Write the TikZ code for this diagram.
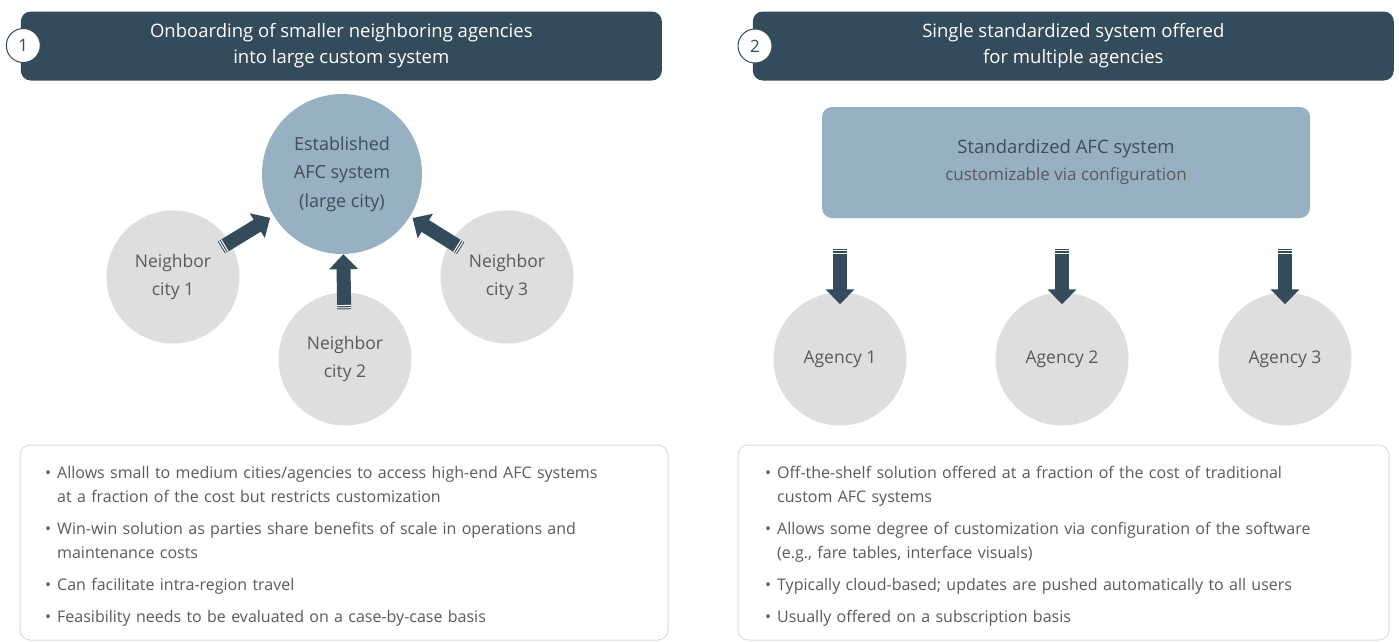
\documentclass[tikz,border=0pt]{standalone}
\usepackage{fontspec}
\setmainfont{Open Sans}
\usepackage{enumitem}
\usetikzlibrary{arrows.meta,positioning,calc}

\definecolor{slate}{HTML}{344B5B}
\definecolor{steel}{HTML}{97B1C3}
\definecolor{pebble}{HTML}{DEDEDE}
\definecolor{ink}{HTML}{5A5A5A}
\definecolor{deepink}{HTML}{434D55}
\definecolor{frame}{HTML}{DCDCDC}

\tikzset{
  header/.style={fill=slate, rounded corners=10pt, text=white, align=center,
    minimum width=641pt, minimum height=69pt, inner sep=0pt,
    font=\fontsize{18.5}{26}\selectfont},
  badge/.style={circle, draw=slate, fill=white, line width=1pt, minimum size=34pt,
    inner sep=0pt, text=slate, font=\fontsize{17}{20}\selectfont},
  city/.style={circle, fill=pebble, minimum size=133pt, inner sep=0pt, text=ink,
    align=center, font=\fontsize{17.5}{28}\selectfont},
  hub/.style={circle, fill=steel, minimum size=160pt, inner sep=0pt, text=deepink,
    align=center, font=\fontsize{18}{28.5}\selectfont},
  fat/.style={slate, line width=14pt, -{Triangle[width=28pt,length=15pt]}},
  stripes/.style={white, line width=14pt,
    dash pattern=on 1pt off 1.3pt on 1pt off 400pt, dash phase=402.3pt},
  notes/.style={draw=frame, rounded corners=10pt, line width=1pt},
  notetext/.style={anchor=north west, inner sep=0pt, text width=615pt, text=ink,
    font=\fontsize{16}{24}\selectfont},
}

%% thick arrow with a striped tail, drawn from node to node
\newcommand\stripedlink[4]{%
  \draw[fat, shorten <=#3, shorten >=#4] (#1) -- (#2);
  \draw[stripes, shorten <=#3] (#1) -- (#2);
}

\setlist[itemize]{label=\textbullet, leftmargin=15pt, labelsep=6pt,
  topsep=0pt, partopsep=0pt, parsep=0pt, itemsep=8pt}

\begin{document}
\begin{tikzpicture}[x=1pt,y=-1pt]
  \useasboundingbox (0,0) rectangle (1399,641);

  \begin{scope}
    %% header
    \node[header] (headA) at (341.3,46) {Onboarding of smaller neighboring agencies\\into large custom system};
    \node[badge] (numA) at (23.3,45.5) {1};
    %% established system
    \node[hub] (big) at (342,174) {Established\\AFC system\\(large city)};
    %% neighbors
    \node[city] (nb1) at (173,277) {Neighbor\\city 1};
    \node[city] (nb2) at (345,359) {Neighbor\\city 2};
    \node[city] (nb3) at (507,277) {Neighbor\\city 3};
    \stripedlink{nb1}{big}{-10pt}{4pt}
    \stripedlink{nb2}{big}{-17pt}{0pt}
    \stripedlink{nb3}{big}{-12pt}{3pt}
    %% notes
    \draw[notes] (20,445) rectangle (668,640);
    \node[notetext] (txtA) at (42,454) {\raggedright
      \begin{itemize}
        \item Allows small to medium cities/agencies to access high-end AFC systems\newline at a fraction of the cost but restricts customization
        \item Win-win solution as parties share benefits of scale in operations and\newline maintenance costs
        \item Can facilitate intra-region travel
        \item Feasibility needs to be evaluated on a case-by-case basis
      \end{itemize}};
  \end{scope}

  \begin{scope}
    %% header
    \node[header] (headB) at (1073.3,46) {Single standardized system offered\\for multiple agencies};
    \node[badge] (numB) at (755,46) {2};
    %% standardized system
    \node[fill=steel, rounded corners=10pt, minimum width=488pt, minimum height=111pt,
      align=center, text=deepink, font=\fontsize{18.5}{27}\selectfont] (std) at (1066,162.5)
      {Standardized AFC system\\{\fontsize{17}{27}\selectfont\color{ink}customizable via configuration}};
    %% agencies
    \node[city] (ag1) at (840,359) {Agency 1};
    \node[city] (ag2) at (1062,359) {Agency 2};
    \node[city] (ag3) at (1285,359) {Agency 3};
    \foreach \a in {ag1,ag2,ag3} {
      \coordinate (top-\a) at (std.south -| \a.north);
      \stripedlink{top-\a}{\a.north}{31pt}{-12pt}
    }
    %% notes
    \draw[notes] (738,445) rectangle (1389,640);
    \node[notetext] (txtB) at (762,454) {\raggedright
      \begin{itemize}
        \item Off-the-shelf solution offered at a fraction of the cost of traditional\newline custom AFC systems
        \item Allows some degree of customization via configuration of the software\newline (e.g., fare tables, interface visuals)
        \item Typically cloud-based; updates are pushed automatically to all users
        \item Usually offered on a subscription basis
      \end{itemize}};
  \end{scope}
\end{tikzpicture}
\end{document}
